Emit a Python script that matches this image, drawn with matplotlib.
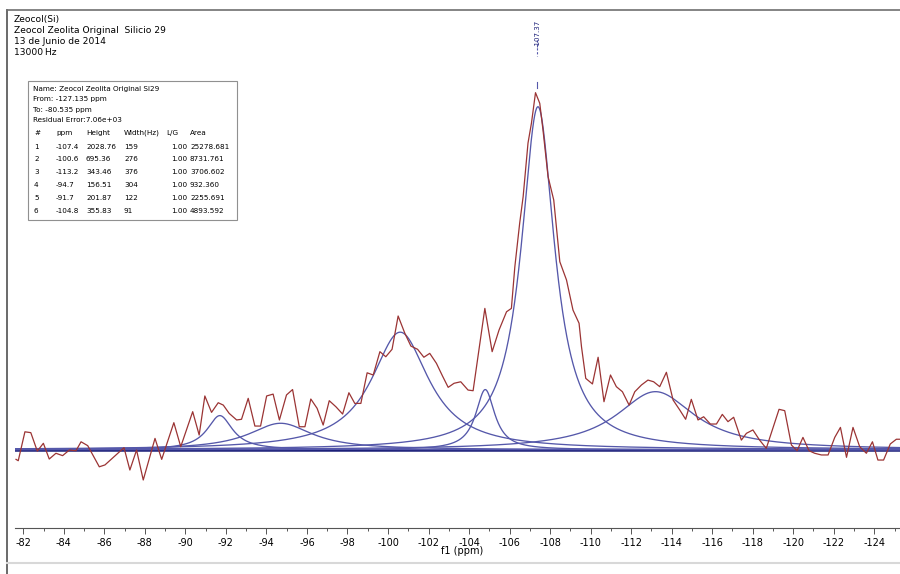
import matplotlib.pyplot as plt
import matplotlib.transforms as mtransforms
from matplotlib.lines import Line2D
from matplotlib.patches import Rectangle
import numpy as np

plt.rcParams['axes.unicode_minus'] = False
plt.rcParams['font.family'] = 'DejaVu Sans'

ppm = [-81.64, -81.75, -82.08, -82.37, -82.69, -82.99, -83.28, -83.61, -83.94, -84.27,
       -84.60, -84.85, -85.18, -85.75, -86.03, -86.97, -87.26, -87.59, -87.92, -88.50,
       -88.83, -89.43, -89.77, -90.36, -90.68, -90.96, -91.29, -91.62, -91.87, -92.16,
       -92.53, -92.77, -93.10, -93.43, -93.71, -94.01, -94.33, -94.64, -94.99, -95.29,
       -95.62, -95.90, -96.19, -96.50, -96.80, -97.10, -97.43, -97.76, -98.07, -98.36,
       -98.66, -98.97, -99.27, -99.60, -99.89, -100.20, -100.50, -100.83, -101.13, -101.46,
       -101.77, -102.06, -102.39, -102.69, -102.97, -103.26, -103.59, -103.95, -104.20, -104.78,
       -105.14, -105.48, -105.85, -106.09, -106.26, -106.50, -106.67, -106.91, -107.08, -107.28,
       -107.49, -107.65, -107.90, -108.18, -108.48, -108.81, -109.13, -109.43, -109.55, -109.76,
       -110.09, -110.37, -110.66, -110.98, -111.27, -111.57, -111.90, -112.18, -112.51, -112.83,
       -113.11, -113.41, -113.74, -114.07, -114.40, -114.69, -114.97, -115.30, -115.58, -115.91,
       -116.21, -116.50, -116.78, -117.06, -117.44, -117.69, -118.01, -118.34, -118.67, -119.30,
       -119.58, -119.91, -120.19, -120.48, -120.78, -121.06, -121.39, -121.72, -122.05, -122.33,
       -122.63, -122.95, -123.28, -123.61, -123.91, -124.18, -124.46, -124.79, -125.09, -125.25]
intensity = [-57, -65, 106, 101, -8, 38, -55, -21, -35, -2,
             -6, 47, 24, -101, -90, 12, -120, -2, -179, 67,
             -57, 160, 18, 225, 87, 318, 221, 278, 264, 215,
             176, 180, 304, 140, 140, 318, 329, 176, 324, 356,
             136, 136, 300, 245, 146, 290, 254, 211, 337, 274,
             274, 455, 442, 580, 550, 594, 791, 689, 613, 594,
             547, 570, 511, 436, 369, 393, 402, 353, 349, 836,
             580, 708, 816, 836, 1082, 1341, 1497, 1814, 1932, 2112,
             2049, 1891, 1615, 1477, 1112, 1004, 826, 748, 609, 422,
             389, 547, 284, 442, 373, 343, 264, 343, 383, 412,
             402, 373, 458, 294, 235, 180, 298, 176, 195, 152,
             152, 209, 166, 192, 57, 97, 117, 57, 8, 239,
             231, 28, -6, 73, -6, -21, -31, -31, 73, 132,
             -45, 132, 18, -21, 47, -61, -61, 34, 62, 62]

# %% Peak fit table (Lorentzian, L/G = 1.00)
peak_no = ['1', '2', '3', '4', '5', '6']
peak_ppm = [-107.4, -100.6, -113.2, -94.7, -91.7, -104.8]
peak_height = [2028.76, 695.36, 343.46, 156.51, 201.87, 355.83]
peak_width_hz = [159, 276, 376, 304, 122, 91]
peak_lg = ['1.00', '1.00', '1.00', '1.00', '1.00', '1.00']
peak_area = ['25278.681', '8731.761', '3706.602', '932.360', '2255.691', '4893.592']
si_freq_mhz = 79.5

header_lines = ['Zeocol(Si)', 'Zeocol Zeolita Original  Silicio 29',
                '13 de Junio de 2014', '13000\u2009Hz']
fit_info = ['Name: Zeocol Zeolita Original Si29', 'From: -127.135 ppm',
            'To: -80.535 ppm', 'Residual Error:7.06e+03']
peak_label = -107.37

red = '#9b3434'
blue = '#5558aa'
navy = '#1b1f78'

W, H = 900, 574
fig = plt.figure(figsize=(9, 5.74), dpi=100)
ax = fig.add_axes([15 / W, (H - 528) / H, 885 / W, 518 / H])

xmin, xmax = -81.59, -125.27
xx = np.linspace(xmin, xmax, 3000)
ax.plot([xmin, xmax], [0, 0], color=navy, lw=1.8, zorder=2)
for c, h, w in zip(peak_ppm, peak_height, peak_width_hz):
    g = (w / si_freq_mhz) / 2
    ax.plot(xx, h * g ** 2 / ((xx - c) ** 2 + g ** 2), color=blue, lw=0.95, zorder=3)
ax.plot(ppm, intensity, color=red, lw=0.9, zorder=4)

ax.set_xlim(xmin, xmax)
ax.set_ylim(-463, 2601)
ax.set_xticks(np.arange(-82, -125, -2))
ax.set_xticks(np.arange(-83, -126, -2), minor=True)
ax.set_yticks([])
for s in ['top', 'left', 'right']:
    ax.spines[s].set_visible(False)
ax.spines['bottom'].set_color('#555555')
ax.spines['bottom'].set_linewidth(0.8)
ax.tick_params(axis='x', which='major', length=4, width=0.7, color='#555555',
               labelsize=7, pad=3)
ax.tick_params(axis='x', which='minor', length=2, width=0.7, color='#555555')
ax.set_xlabel('f1 (ppm)', fontsize=7, va='center')
ax.xaxis.set_label_coords((462 - 15) / 885, -(551 - 528) / 518)

# peak label at the top
trans = mtransforms.blended_transform_factory(ax.transData, fig.transFigure)
ax.text(peak_label, 1 - 20 / H, '%.2f' % peak_label, rotation=90, ha='center', va='top',
        fontsize=5, color=navy, transform=trans)
ax.plot([peak_label, peak_label], [1 - 40 / H, 1 - 56 / H], transform=trans,
        color=blue, lw=0.8, ls=(0, (2, 1.5)), clip_on=False)
ax.plot([peak_label, peak_label], [1 - 82 / H, 1 - 88 / H], transform=trans,
        color=blue, lw=0.8, clip_on=False)

# title block
for i, t in enumerate(header_lines):
    fig.text(14 / W, 1 - (19.5 + 11 * i) / H, t, fontsize=6.6, va='center', ha='left')

# fit table
fig.patches.append(Rectangle((28 / W, 1 - 220 / H), 209 / W, 139 / H, transform=fig.transFigure,
                             fill=False, ec='#909090', lw=0.8))
for i, t in enumerate(fit_info):
    fig.text(33 / W, 1 - (89 + 10.3 * i) / H, t, fontsize=5.2, va='center')
col_x = [34, 56, 86, 124, 166, 190]
for x, t in zip(col_x, ['#', 'ppm', 'Height', 'Width(Hz)', 'L/G', 'Area']):
    fig.text(x / W, 1 - 133 / H, t, fontsize=5.2, va='center')
val_x = [34, 56, 86, 124, 171, 190]
for r in range(len(peak_no)):
    y = 1 - (146.5 + 12.9 * r) / H
    row = [peak_no[r], '%.1f' % peak_ppm[r], '%.2f' % peak_height[r],
           str(peak_width_hz[r]), peak_lg[r], peak_area[r]]
    for x, t in zip(val_x, row):
        fig.text(x / W, y, t, fontsize=5.2, va='center')

# outer frame
fig.add_artist(Line2D([7 / W, 7 / W], [0, 1 - 10 / H], color='#505050', lw=1.2))
fig.add_artist(Line2D([7 / W, 1], [1 - 10 / H, 1 - 10 / H], color='#707070', lw=1.2))
fig.add_artist(Line2D([7 / W, 1], [1 - 563 / H, 1 - 563 / H], color='#d8d8d8', lw=1.5))

fig.savefig('out.png', dpi=100)
